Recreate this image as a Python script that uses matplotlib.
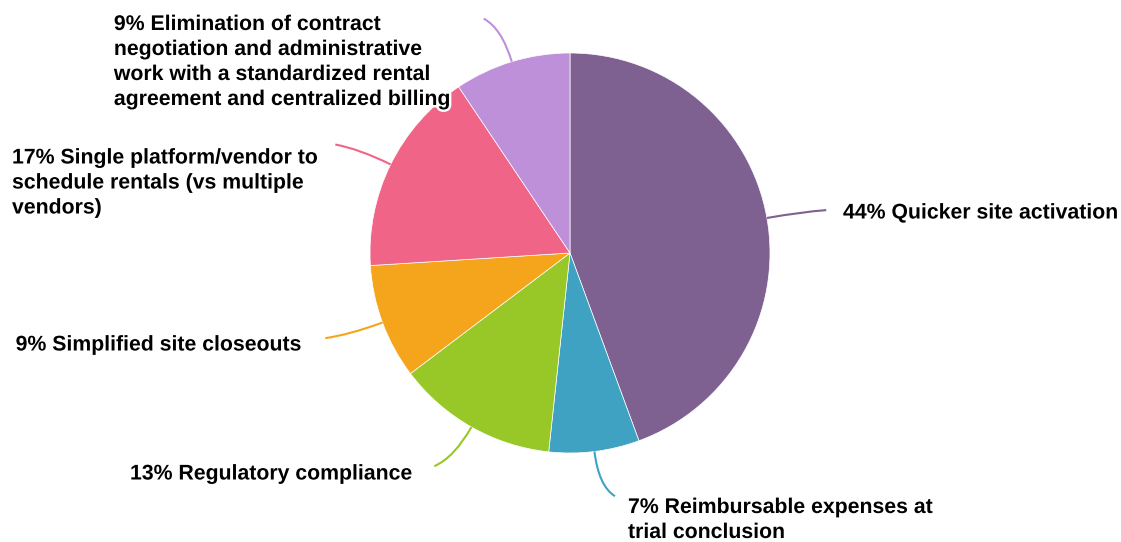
import numpy as np
import matplotlib.pyplot as plt
import matplotlib.patheffects as pe
from matplotlib.path import Path
from matplotlib.patches import PathPatch

plt.rcParams['font.family'] = ['Liberation Sans', 'DejaVu Sans']

labels = [
    "Quicker site activation",
    "Reimbursable expenses at\ntrial conclusion",
    "Regulatory compliance",
    "Simplified site closeouts",
    "Single platform/vendor to\nschedule rentals (vs multiple\nvendors)",
    "Elimination of contract\nnegotiation and administrative\nwork with a standardized rental\nagreement and centralized billing",
]
shares = [44.4, 7.3, 13.0, 9.3, 16.6, 9.4]
colors = ["#7E6190", "#3FA2C3", "#98C828", "#F5A51B", "#F06587", "#BF90DA"]

# label anchor (x, y) in figure pixels, y measured from the bottom
label_pos = [(843, 329), (628, 22), (413, 68), (302, 197), (12, 359), (452, 480)]
label_ha = ["left", "left", "right", "right", "left", "right"]

W, H = 1121, 542
cx, cy, R = 570, H - 253, 200

fig = plt.figure(figsize=(W / 100, H / 100), dpi=100)
ax = fig.add_axes([0, 0, 1, 1])

wedges, _ = ax.pie(shares, colors=colors, startangle=90, counterclock=False,
                   center=(cx, cy), radius=R,
                   wedgeprops=dict(edgecolor="white", linewidth=0.5))
ax.set_xlim(0, W)
ax.set_ylim(0, H)
ax.set_aspect("equal")
ax.axis("off")

halo = [pe.withStroke(linewidth=3.5, foreground="white")]

for w, share, lab, (tx, ty), ha, col in zip(wedges, shares, labels, label_pos, label_ha, colors):
    mid = np.deg2rad((w.theta1 + w.theta2) / 2)
    dx, dy = np.cos(mid), np.sin(mid)
    side = 1 if dx >= 0 else -1
    # soft connector: out along the radius, then bend toward the label side
    p0 = (cx + R * dx, cy + R * dy)
    p1 = (p0[0] + 35 * dx, p0[1] + 35 * dy)
    p2 = (p0[0] + 45 * dx + 15 * side, p0[1] + 45 * dy)
    path = Path([p0, p1, p2], [Path.MOVETO, Path.CURVE3, Path.CURVE3])
    ax.add_patch(PathPatch(path, facecolor="none", edgecolor=col, linewidth=1.5))
    ax.text(tx, ty, f"{share:.0f}% {lab}", ha=ha, va="center", multialignment="left",
            fontsize=15.3, fontweight="bold", color="black", linespacing=1.4,
            path_effects=halo, zorder=5)

fig.savefig("out.png", dpi=100)
